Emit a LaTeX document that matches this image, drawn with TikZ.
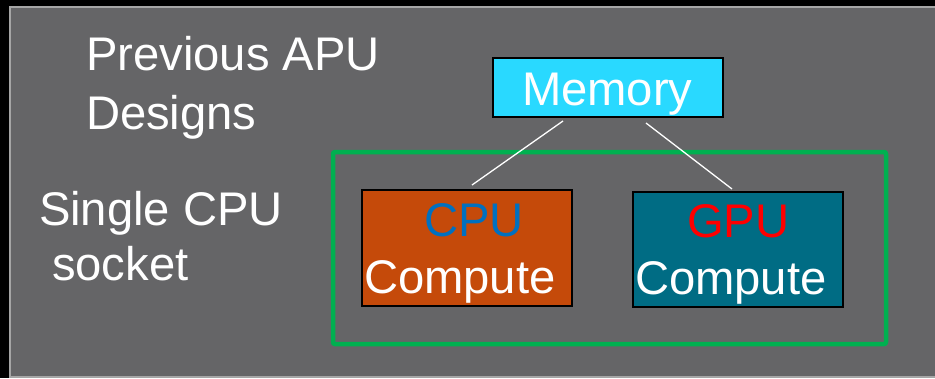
\documentclass[tikz,border=0pt]{standalone}
\usepackage{fontspec}
\setmainfont{Liberation Sans}
\usetikzlibrary{calc}
\definecolor{bg}{HTML}{656567}
\definecolor{bord}{HTML}{A6A6A6}
\definecolor{memfill}{HTML}{29D9FF}
\definecolor{cpufill}{HTML}{C54A0A}
\definecolor{cpublue}{HTML}{0070C0}
\definecolor{gpufill}{HTML}{006C84}
\definecolor{gpured}{HTML}{FF0000}
\definecolor{socketgreen}{HTML}{00B050}
\begin{document}
\begin{tikzpicture}[x=1pt,y=-1pt,
  every node/.style={inner sep=0pt, outer sep=0pt},
  txt/.style={font=\fontsize{47.2}{55}\selectfont, text=white, anchor=base west},
  unitbox/.style={draw=black, line width=1.3pt, anchor=north west},
  link/.style={draw=white, line width=1.3pt}]
\useasboundingbox (0,0) rectangle (935,378);
\fill[black] (0,0) rectangle (935,378);
\draw[bord, line width=2pt, fill=bg] (10,7) rectangle (945,377);
% labels
\node[txt] (prev) at (86,70) {Previous APU};
\node[txt] (des) at (86,129) {Designs};
\node[txt] (single) at (39,225) {Single CPU};
\node[txt] (sock) at (52,280) {socket};
% socket frame
\node[draw=socketgreen, line width=4.5pt, rounded corners=2pt, anchor=north west,
      minimum width=553pt, minimum height=192pt] (frame) at (333,152) {};
% boxes
\node[unitbox, fill=memfill, minimum width=230pt, minimum height=59pt] (mem) at (493,58) {};
\node[unitbox, fill=cpufill, minimum width=210pt, minimum height=116pt] (cpu) at (362,190) {};
\node[unitbox, fill=gpufill, minimum width=210pt, minimum height=115pt] (gpu) at (633,192) {};
% box texts
\node[txt] (memT) at (522,105) {Memory};
\node[txt, text=cpublue] (cpuA) at (424,236) {CPU};
\node[txt] (cpuB) at (364,293) {Compute};
\node[txt, text=gpured] (gpuA) at (687,237) {GPU};
\node[txt] (gpuB) at (635,294) {Compute};
% connectors
\draw[link] ($(mem.south west)+(70,4)$) -- ($(cpu.north west)+(110,-5)$);
\draw[link] ($(mem.south west)+(153,6)$) -- ($(gpu.north west)+(99,-3)$);
\end{tikzpicture}
\end{document}
